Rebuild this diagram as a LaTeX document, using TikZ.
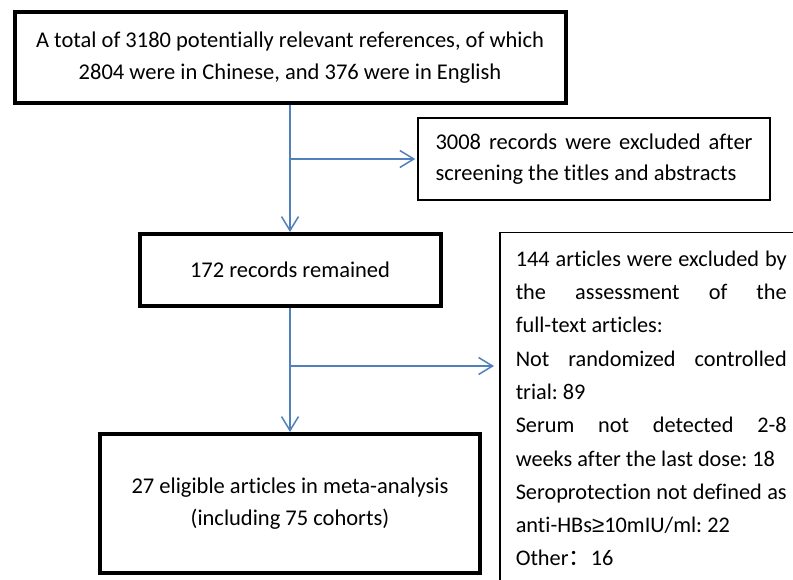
\documentclass[tikz,border=0pt]{standalone}
\usepackage{fontspec}
\setmainfont{Carlito}[RawFeature={-liga}]
\newfontfamily\cjk{Noto Sans CJK SC}
\newfontfamily\symfont{Liberation Sans}
\usetikzlibrary{arrows.meta}
\definecolor{flowblue}{HTML}{4F81BD}
\frenchspacing
\begin{document}
\begin{tikzpicture}[x=1pt,y=-1pt,
  thickbox/.style={draw=black, line width=4pt, align=center, inner sep=0pt,
    font=\fontsize{22.5}{32}\selectfont},
  thinbox/.style={draw=black, line width=1.5pt, align=justify, inner xsep=17.5pt,
    font=\fontsize{22.5}{31}\selectfont},
  arr/.style={draw=flowblue, line width=1.5pt,
    -{Straight Barb[length=14pt,width=17pt,line width=1.5pt]}}]
\fill[white] (0,0) rectangle (793,580);
\useasboundingbox (0,0) rectangle (793,580);
\clip (0,0) rectangle (793,580);

\node[thickbox, minimum width=551pt, minimum height=91pt] (total) at (290,57.5)
  {A total of 3180 potentially relevant references, of which\\2804 were in Chinese, and 376 were in English};

\node[thinbox, text width=317pt, minimum height=82pt] (excl1) at (594,159)
  {3008 records were excluded after\linebreak screening the titles and abstracts};

\node[thickbox, minimum width=301pt, minimum height=72pt] (remain) at (290,270)
  {172 records remained};

\node[thinbox, anchor=north west, text width=271pt, inner xsep=16pt, inner ysep=18pt,
  font=\fontsize{22.3}{33.3}\selectfont] (excl2) at (499,232)
  {144 articles were excluded by\linebreak the assessment of the\linebreak full-text articles:\\
   Not randomized controlled\linebreak trial: 89\\
   Serum not detected 2-8\linebreak \mbox{weeks after the last dose: 18}\\
   Seroprotection not defined as\linebreak \mbox{anti-HBs{\symfont ≥}10mIU/ml: 22}\\
   Other{\cjk ：}16\\ \mbox{}};

\node[thickbox, minimum width=380pt, minimum height=139pt] (final) at (290,503.5)
  {27 eligible articles in meta-analysis\\(including 75 cohorts)};

\coordinate (split1) at (total.south |- excl1.west);
\coordinate (split2) at (290,366);

\draw[arr] (total.south) -- (remain.north);
\draw[arr, shorten >=2pt] (split1) -- (excl1.west);
\draw[arr] (remain.south) -- (final.north);
\draw[arr, shorten >=5pt] (split2) -- (split2 -| excl2.west);
\end{tikzpicture}
\end{document}
